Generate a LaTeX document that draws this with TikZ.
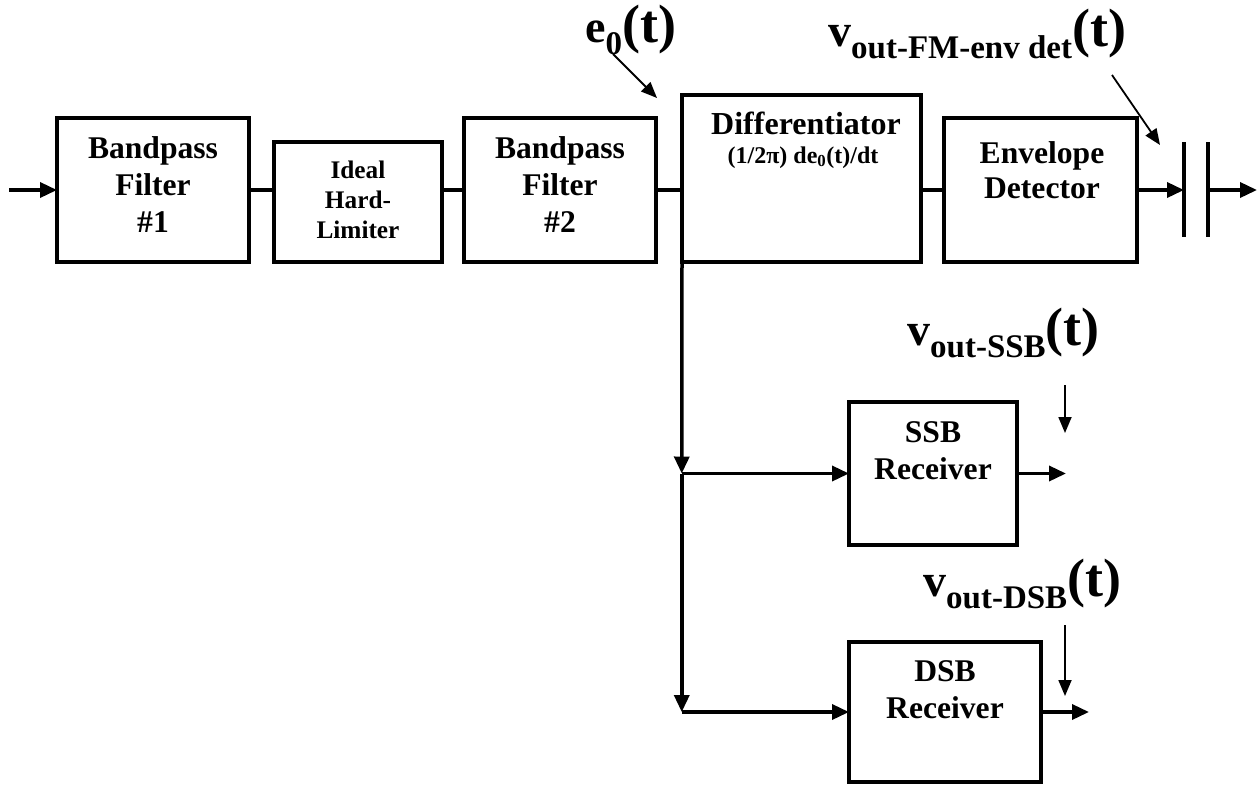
\documentclass[tikz,border=0pt]{standalone}
\usepackage{fontspec}
\setmainfont{Liberation Serif}
\usetikzlibrary{arrows.meta}
\newcommand{\biglabel}[2]{{\fontsize{46}{46}\selectfont #1}\raisebox{-12pt}{\fontsize{33}{33}\selectfont #2}{\fontsize{54}{54}\selectfont(t)}}
\begin{document}
\begin{tikzpicture}[x=1pt,y=-1pt,
  box/.style={draw, line width=3.5pt, inner sep=0pt, outer sep=0pt},
  boxtxt/.style={inner sep=0pt, align=center, anchor=north, font=\fontsize{31.6}{37}\selectfont\bfseries},
  lbl/.style={inner sep=0pt, anchor=base west, font=\bfseries},
  wire/.style={line width=3.5pt},
  arr/.style={line width=3.5pt, -{Triangle[length=17pt,width=15pt]}},
  pointer/.style={line width=1.8pt, -{Triangle[length=16pt,width=13pt]}}]
\useasboundingbox (0,0) rectangle (1259,785);

% boxes
\node[box, minimum width=192pt, minimum height=144pt] (bpf1) at (153,190) {};
\node[box, minimum width=168pt, minimum height=120pt] (lim) at (358,202) {};
\node[box, minimum width=192pt, minimum height=144pt] (bpf2) at (560,190) {};
\node[box, minimum width=239pt, minimum height=167pt] (diff) at (801.5,178.5) {};
\node[box, minimum width=193pt, minimum height=144pt] (env) at (1040.5,190) {};
\node[box, minimum width=168pt, minimum height=143pt] (ssb) at (933,473.5) {};
\node[box, minimum width=192pt, minimum height=140pt] (dsb) at (945,712) {};

% box texts
\node[boxtxt] (bpf1t) at (153,136.5) {Bandpass\\Filter\\\#1};
\node[boxtxt, font=\fontsize{25.3}{30}\selectfont\bfseries] (limt) at (358,161) {Ideal\\Hard-\\Limiter};
\node[boxtxt] (bpf2t) at (560,136.5) {Bandpass\\Filter\\\#2};
\node[inner sep=0pt, anchor=base, font=\fontsize{32}{32}\selectfont\bfseries] (difft) at (806,134) {Differentiator};
\node[inner sep=0pt, anchor=base, font=\fontsize{24}{24}\selectfont\bfseries] (diffeq) at (803,163) {(1/2π) de\textsubscript{0}(t)/dt};
\node[boxtxt, font=\fontsize{31.6}{35}\selectfont\bfseries] (envt) at (1042,141.6) {Envelope\\Detector};
\node[boxtxt] (ssbt) at (933,421.6) {SSB\\Receiver};
\node[boxtxt] (dsbt) at (945,660.6) {DSB\\Receiver};

% main chain
\coordinate (in) at (9,190);
\draw[arr] (in) -- (bpf1.west);
\draw[wire] (bpf1.east) -- (bpf1.east -| lim.west);
\draw[wire] (bpf1.east -| lim.east) -- (bpf2.west);
\draw[wire] (bpf2.east) -- (bpf2.east -| diff.west);
\draw[wire] (env.west -| diff.east) -- (env.west);

% capacitor and output
\coordinate (c1) at (1184,190);
\coordinate (c2) at (1208,190);
\coordinate (c1t) at (1184,142);
\coordinate (c1b) at (1184,237);
\coordinate (c2t) at (1208,142);
\coordinate (c2b) at (1208,237);
\coordinate (out) at (1257,190);
\draw[arr] (env.east) -- (c1);
\draw[wire] (c1t) -- (c1b);
\draw[wire] (c2t) -- (c2b);
\draw[arr] (c2) -- (out);

% branches
\coordinate (j1) at (681.75,473.5);
\coordinate (j2) at (681.75,712);
\draw[arr] (diff.south west) -- (j1);
\draw[arr] (j1) -- (j2);
\draw[arr] (j1) -- (ssb.west);
\draw[arr] (j2) -- (dsb.west);
\coordinate (ssbo) at (1066,473.5);
\coordinate (dsbo) at (1089,712);
\draw[arr] (ssb.east) -- (ssbo);
\draw[arr] (dsb.east) -- (dsbo);

% labels
\node[lbl] (le0) at (585,42) {\biglabel{e}{0}};
\node[lbl] (lfm) at (828,46) {\biglabel{v}{out-FM-env det}};
\node[lbl] (lssb) at (907,345) {\biglabel{v}{out-SSB}};
\node[lbl] (ldsb) at (923,596) {\biglabel{v}{out-DSB}};

% pointers
\coordinate (pe1) at (613,54);
\coordinate (pe2) at (657,98);
\draw[pointer] (pe1) -- (pe2);
\coordinate (pf1) at (1112,75);
\coordinate (pf2) at (1160,145);
\draw[pointer] (pf1) -- (pf2);
\coordinate (ps1) at (1065,385);
\coordinate (ps2) at (1065,433);
\draw[pointer] (ps1) -- (ps2);
\coordinate (pd1) at (1065,625);
\coordinate (pd2) at (1065,696);
\draw[pointer] (pd1) -- (pd2);
\end{tikzpicture}
\end{document}
